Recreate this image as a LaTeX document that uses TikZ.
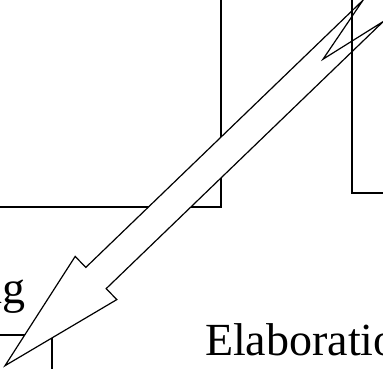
\documentclass[tikz,border=0pt]{standalone}
\usepackage{fontspec}
\setmainfont{Liberation Serif}
\begin{document}
\begin{tikzpicture}[x=1pt,y=-1pt,line width=1.2pt,
  box/.style={draw=black},
  blockarrow/.style={draw=black,fill=white,line join=miter},
  lbl/.style={inner sep=0pt,font=\fontsize{46}{55}\selectfont}]
\useasboundingbox (0,0) rectangle (383,368);
\clip (0,0) rectangle (383,368);
% boxes behind the arrow
\draw[box] (-60,-60) rectangle (221,207);
\draw[box] (-60,335) rectangle (52,430);
% labels (cut off at the picture's edges, as in the reference)
\node[lbl,anchor=base east] (ng) at (26,303) {ng};
\node[lbl,anchor=base west] (elab) at (204.5,355) {Elaboration};
% block arrow with swallow tail
\coordinate (tip) at (5,365.7);
\coordinate (lbarb) at (116.8,299.6);
\coordinate (lshaft) at (106.2,288.6);
\coordinate (lprong) at (383.4,21.4);
\coordinate (notch) at (323,59.2);
\coordinate (uprong) at (363,0.2);
\coordinate (ushaft) at (85.8,267.4);
\coordinate (ubarb) at (75.2,256.4);
\draw[blockarrow] (tip) -- (lbarb) -- (lshaft) -- (lprong) -- (notch) -- (uprong) -- (ushaft) -- (ubarb) -- cycle;
% box drawn over the arrow
\draw[box] (352,-60) rectangle (460,193);
\end{tikzpicture}
\end{document}
